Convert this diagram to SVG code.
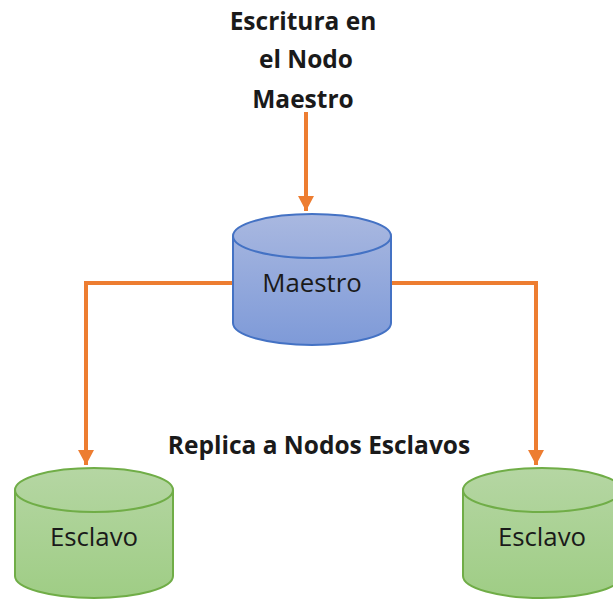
<svg xmlns="http://www.w3.org/2000/svg" width="613" height="599" viewBox="0 0 613 599">
<defs>
<linearGradient id="b" x1="0" y1="0" x2="0" y2="1"><stop offset="0" stop-color="#a9b8e0"/><stop offset="1" stop-color="#7e9ad8"/></linearGradient>
<linearGradient id="g" x1="0" y1="0" x2="0" y2="1"><stop offset="0" stop-color="#b5d6a3"/><stop offset="1" stop-color="#9fcd85"/></linearGradient>
<marker id="a" markerUnits="userSpaceOnUse" markerWidth="16" markerHeight="16" refX="15" refY="8" orient="auto"><path d="M0 0L15 8L0 16z" fill="#ed7d31"/></marker>
</defs>
<style>
text{font-family:"Open Sans","DejaVu Sans",sans-serif;font-size:25.8px;fill:#1a1a1a;text-anchor:middle}
.l{font-weight:700;font-size:24.5px}
.c{fill:none;stroke:#ed7d31;stroke-width:4}
.bl{stroke:#4472c4;stroke-width:2}
.gr{stroke:#70ad47;stroke-width:2}
</style>
<rect width="613" height="599" fill="#fff"/>
<g id="connectors">
<path class="c" d="M306 112V211" marker-end="url(#a)"/>
<path class="c" d="M233 283H86V465" marker-end="url(#a)"/>
<path class="c" d="M390 283H536V465" marker-end="url(#a)"/>
</g>
<g id="master">
<path class="bl" fill="url(#b)" d="M233 236A79 22 0 0 1 391 236V323A79 22 0 0 1 233 323Z"/>
<path class="bl" fill="none" d="M233 236A79 22 0 0 0 391 236"/>
<text x="312" y="292">Maestro</text>
</g>
<g id="slave-left">
<path class="gr" fill="url(#g)" d="M15 490A79 22 0 0 1 173 490V576A79 22 0 0 1 15 576Z"/>
<path class="gr" fill="none" d="M15 490A79 22 0 0 0 173 490"/>
<text x="94" y="546">Esclavo</text>
</g>
<g id="slave-right">
<path class="gr" fill="url(#g)" d="M463 490A79 22 0 0 1 621 490V576A79 22 0 0 1 463 576Z"/>
<path class="gr" fill="none" d="M463 490A79 22 0 0 0 621 490"/>
<text x="542" y="546">Esclavo</text>
</g>
<g id="labels">
<text class="l" x="303" y="30">Escritura en</text>
<text class="l" x="306" y="68">el Nodo</text>
<text class="l" x="303" y="108">Maestro</text>
<text class="l" x="319" y="454">Replica a Nodos Esclavos</text>
</g>
</svg>
